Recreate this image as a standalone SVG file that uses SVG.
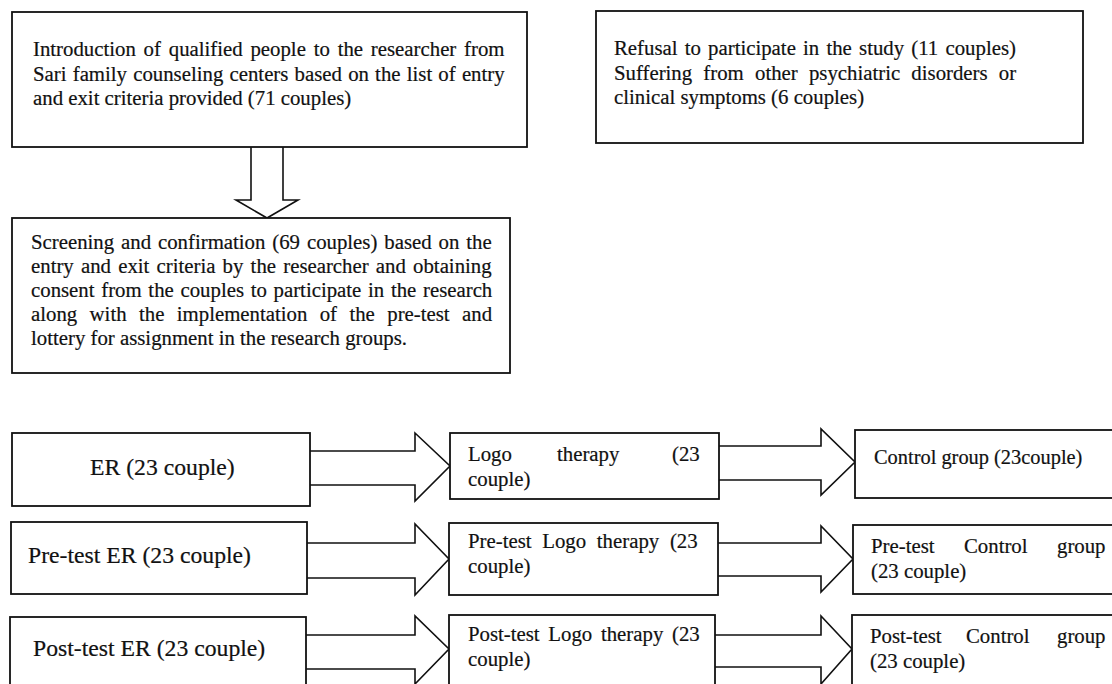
<svg xmlns="http://www.w3.org/2000/svg" width="1112" height="684" viewBox="0 0 1112 684">
<style>
.box{fill:#fff;stroke:#111;stroke-width:1.8}
.arr{fill:none;stroke:#111;stroke-width:1.6;stroke-linejoin:miter}
text{font-family:"Liberation Serif","Times New Roman",serif;fill:#111;font-size:20.8px;stroke:#111;stroke-width:0.2}
.big{font-size:23.7px}
</style>
<rect width="1112" height="684" fill="#fff"/>
<g id="connectors">
<path class="arr" d="M251,147 L251,200 L236,200 L267,218 L298,200 L283,200 L283,147"/>
<path class="arr" d="M310,451 L415,451 L415,433 L450,466 L415,501 L415,485 L310,485"/>
<path class="arr" d="M719,446 L821,446 L821,429 L855,462 L821,495 L821,480 L719,480"/>
<path class="arr" d="M307,543 L415,543 L415,524 L449,559 L415,595 L415,578 L307,578"/>
<path class="arr" d="M718,543 L821,543 L821,526 L853,559 L821,592 L821,576 L718,576"/>
<path class="arr" d="M306,635 L415,635 L415,616 L449,649 L415,684 L415,669 L306,669"/>
<path class="arr" d="M715,635 L821,635 L821,616 L852,649 L821,684 L821,667 L715,667"/>
</g>
<g id="n1">
<rect class="box" x="12" y="12" width="515" height="135"/>
<text x="33" y="56" word-spacing="2.6">Introduction of qualified people to the researcher from</text>
<text x="33" y="81" word-spacing="1">Sari family counseling centers based on the list of entry</text>
<text x="33" y="105">and exit criteria provided (71 couples)</text>
</g>
<g id="n2">
<rect class="box" x="596" y="11" width="487" height="132"/>
<text x="614" y="55" word-spacing="2">Refusal to participate in the study (11 couples)</text>
<text x="614" y="80" word-spacing="6">Suffering from other psychiatric disorders or</text>
<text x="614" y="104">clinical symptoms (6 couples)</text>
</g>
<g id="n3">
<rect class="box" x="12" y="218" width="498" height="155"/>
<text x="31" y="249" word-spacing="1.7">Screening and confirmation (69 couples) based on the</text>
<text x="31" y="273" word-spacing="2">entry and exit criteria by the researcher and obtaining</text>
<text x="31" y="297" word-spacing="1.5">consent from the couples to participate in the research</text>
<text x="31" y="321" word-spacing="7.2">along with the implementation of the pre-test and</text>
<text x="31" y="345">lottery for assignment in the research groups.</text>
</g>
<g id="n4">
<rect class="box" x="12" y="433" width="298" height="73"/>
<text class="big" x="90" y="475">ER (23 couple)</text>
</g>
<g id="n5">
<rect class="box" x="450" y="433" width="269" height="66"/>
<text y="461"><tspan x="468">Logo</tspan><tspan x="557">therapy</tspan><tspan x="672">(23</tspan></text>
<text x="468" y="486">couple)</text>
</g>
<g id="n6">
<rect class="box" x="855" y="430" width="262" height="68"/>
<text x="874" y="464" style="font-size:20.4px">Control group (23couple)</text>
</g>
<g id="n7">
<rect class="box" x="11" y="522" width="296" height="72"/>
<text class="big" x="28" y="563">Pre-test ER (23 couple)</text>
</g>
<g id="n8">
<rect class="box" x="449" y="523" width="269" height="72"/>
<text x="468" y="548" word-spacing="5.5">Pre-test Logo therapy (23</text>
<text x="468" y="573">couple)</text>
</g>
<g id="n9">
<rect class="box" x="853" y="525" width="264" height="69"/>
<text y="553"><tspan x="871">Pre-test</tspan><tspan x="964">Control</tspan><tspan x="1057">group</tspan></text>
<text x="871" y="578">(23 couple)</text>
</g>
<g id="n10">
<rect class="box" x="10" y="617" width="296" height="80"/>
<text class="big" x="33" y="656">Post-test ER (23 couple)</text>
</g>
<g id="n11">
<rect class="box" x="449" y="615" width="266" height="80"/>
<text x="468" y="641" word-spacing="3.5">Post-test Logo therapy (23</text>
<text x="468" y="666">couple)</text>
</g>
<g id="n12">
<rect class="box" x="852" y="615" width="265" height="80"/>
<text y="643"><tspan x="870">Post-test</tspan><tspan x="966">Control</tspan><tspan x="1057">group</tspan></text>
<text x="870" y="668">(23 couple)</text>
</g>
</svg>
